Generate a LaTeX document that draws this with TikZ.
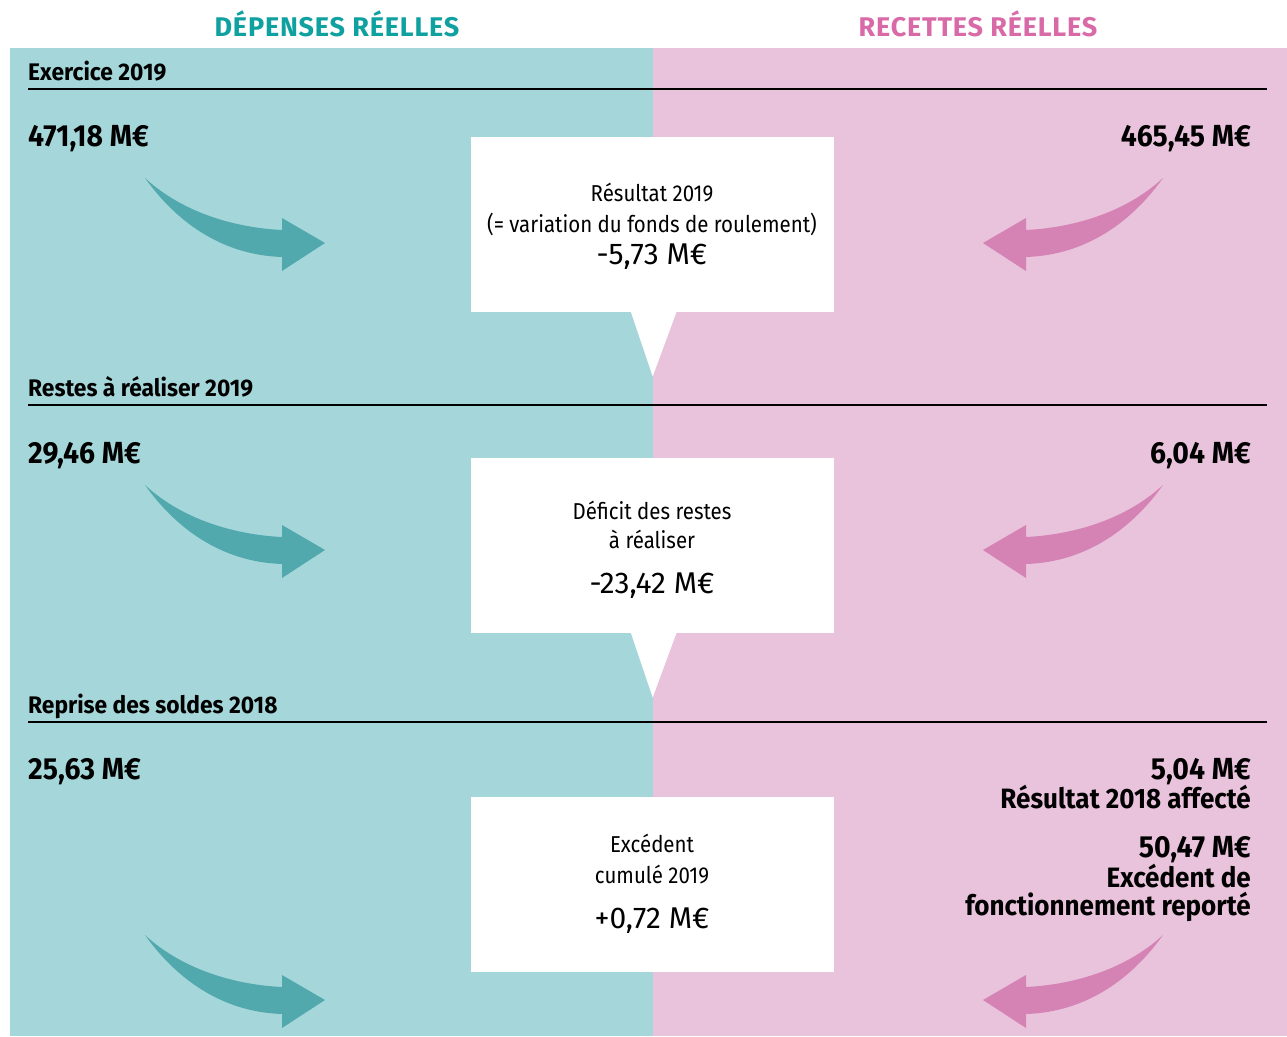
\documentclass[tikz,border=0pt]{standalone}
\usepackage{fontspec}
\setmainfont{Fira Sans}
\newfontfamily\headfont{Fira Sans}[LetterSpace=3]
\newfontfamily\sectfont{Fira Sans}[FakeStretch=0.95]
\newfontfamily\amountfont{Fira Sans}[FakeStretch=0.93]
\newfontfamily\boxfont{Fira Sans}[FakeStretch=0.89]
\usepackage{xcolor}
\usepackage{tikz}

\definecolor{tealbg}{HTML}{A5D7DA}
\definecolor{pinkbg}{HTML}{E9C2DC}
\definecolor{tealarrow}{HTML}{52A9AD}
\definecolor{pinkarrow}{HTML}{D483B4}
\definecolor{tealhead}{HTML}{0FA0A0}
\definecolor{pinkhead}{HTML}{D96AA8}

\tikzstyle{heading} = [font=\headfont\bfseries\fontsize{27}{30}\selectfont, anchor=base, inner sep=0]
\tikzstyle{section} = [font=\sectfont\bfseries\fontsize{24}{28}\selectfont, anchor=base west, inner sep=0]
\tikzstyle{amount} = [font=\amountfont\bfseries\fontsize{30.5}{34}\selectfont, inner sep=0]
\tikzstyle{label} = [font=\amountfont\bfseries\fontsize{28}{32}\selectfont, anchor=base east, inner sep=0]
\tikzstyle{boxtext} = [font=\boxfont\fontsize{23}{27}\selectfont, anchor=base, inner sep=0]
\tikzstyle{boxsum} = [font=\fontsize{30}{34}\selectfont, anchor=base, inner sep=0]
\tikzstyle{callout} = [fill=white, anchor=north west, minimum width=363pt, minimum height=175pt, inner sep=0]
\tikzstyle{rule} = [line width=1.3pt, black]

\tikzset{bend arrow/.pic={
  \fill (-180,-65) .. controls (-140,-28) and (-85,-15) .. (-43,-13) -- (-43,-25) -- (0,0)
        -- (-43,28) -- (-43,14) .. controls (-105,12) and (-150,-23) .. (-180,-65) -- cycle;
}}

\begin{document}
\begin{tikzpicture}[x=1pt, y=-1pt]
		\useasboundingbox (0,0) rectangle (1287,1036);
		
		% Background columns
		\fill[tealbg] (10,48) rectangle (653,1036);
		\fill[pinkbg] (653,48) rectangle (1287,1036);
		
		% Column headings
		\node (dep) [heading, text=tealhead] at (337,36) {DÉPENSES RÉELLES};
		\node (rec) [heading, text=pinkhead] at (978,36) {RECETTES RÉELLES};
		
		% Section titles and rules
		\node (ex) [section] at (28,80) {Exercice 2019};
		\node (rar) [section] at (28,396) {Restes à réaliser 2019};
		\node (rep) [section] at (28,713) {Reprise des soldes 2018};
		\draw [rule] (28,89) -- (1267,89);
		\draw [rule] (28,405) -- (1267,405);
		\draw [rule] (28,722) -- (1267,722);
		
		% Amounts
		\node (ex_dep) [amount, anchor=base west] at (28,146) {471,18 M€};
		\node (ex_rec) [amount, anchor=base east] at (1251,146) {465,45 M€};
		\node (rar_dep) [amount, anchor=base west] at (28,463) {29,46 M€};
		\node (rar_rec) [amount, anchor=base east] at (1251,463) {6,04 M€};
		\node (rep_dep) [amount, anchor=base west] at (28,779) {25,63 M€};
		\node (rep_rec) [amount, anchor=base east] at (1251,779) {5,04 M€};
		\node (rep_lab) [label] at (1251,808) {Résultat 2018 affecté};
		\node (rep_rec2) [amount, anchor=base east] at (1251,857) {50,47 M€};
		\node (rep_lab2) [label] at (1251,887) {Excédent de};
		\node (rep_lab3) [label] at (1251,915) {fonctionnement reporté};
		
		% Curved arrows
		\pic [fill=tealarrow] at (325,243) {bend arrow};
		\pic [fill=tealarrow] at (325,550) {bend arrow};
		\pic [fill=tealarrow] at (325,1000) {bend arrow};
		\pic [fill=pinkarrow, xscale=-1] at (983,243) {bend arrow};
		\pic [fill=pinkarrow, xscale=-1] at (983,550) {bend arrow};
		\pic [fill=pinkarrow, xscale=-1] at (983,1000) {bend arrow};
		
		% Callout boxes
		\node (box1) [callout] at (471,137) {};
		\node (box2) [callout] at (471,458) {};
		\node (box3) [callout] at (471,797) {};
		\fill[white] ([xshift=-22pt, yshift=1pt]box1.south) -- ([yshift=-64pt]box1.south) -- ([xshift=24pt, yshift=1pt]box1.south) -- cycle;
		\fill[white] ([xshift=-22pt, yshift=1pt]box2.south) -- ([yshift=-64pt]box2.south) -- ([xshift=24pt, yshift=1pt]box2.south) -- cycle;
		
		% Texts in the boxes
		\node (res1) [boxtext] at (652,201) {Résultat 2019};
		\node (res2) [boxtext] at (652,232) {(= variation du fonds de roulement)};
		\node (res3) [boxsum] at (652,264) {-5,73 M€};
		\node (def1) [boxtext] at (652,519) {Déficit des restes};
		\node (def2) [boxtext] at (652,548) {à réaliser};
		\node (def3) [boxsum] at (652,593) {-23,42 M€};
		\node (exc1) [boxtext] at (652,852) {Excédent};
		\node (exc2) [boxtext] at (652,883) {cumulé 2019};
		\node (exc3) [boxsum] at (652,928) {+0,72 M€};
		
	\end{tikzpicture}
\end{document}
